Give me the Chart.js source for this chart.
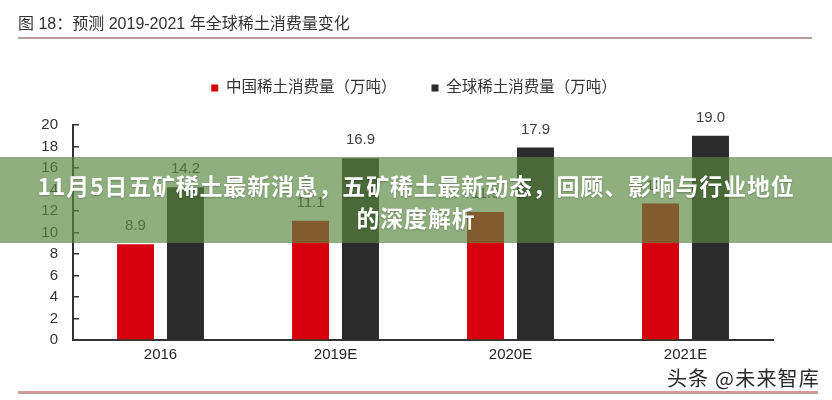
<!DOCTYPE html>
<html><head><meta charset="utf-8">
<script src="https://cdn.jsdelivr.net/npm/chart.js@4.4.0/dist/chart.umd.min.js"></script>
<style>
html,body{margin:0;padding:0;background:#fff;}
#wrap{position:relative;width:832px;height:400px;overflow:hidden;font-family:"Liberation Sans","Noto Sans CJK SC",sans-serif;}
#c{position:absolute;left:0;top:0;width:832px;height:400px;}
#hdr{position:absolute;left:18px;top:13px;font-size:16px;line-height:22px;color:#333;font-family:"Liberation Sans","Noto Sans CJK SC",sans-serif;white-space:nowrap;}
#hline{position:absolute;left:18px;top:37px;width:794px;height:2px;background:#b89b9b;}
#bline{position:absolute;left:18px;top:391px;width:800px;height:3px;background:#cf9c9c;}
#band{position:absolute;left:0;top:157px;width:832px;height:86px;background:rgba(88,137,63,0.67);color:#fff;font-family:"Noto Sans CJK SC",sans-serif;font-weight:bold;font-size:23px;line-height:32px;text-align:center;box-sizing:border-box;padding-top:12px;letter-spacing:0.8px;text-shadow:0 1px 2px rgba(0,0,0,0.25);white-space:nowrap;}
#wm{position:absolute;left:667px;top:364px;font-family:"Noto Sans CJK SC",sans-serif;font-size:20px;line-height:28px;letter-spacing:1.2px;color:#2a2a2a;text-shadow:0 0 2px #fff;white-space:nowrap;}
</style></head><body>
<div id="wrap">
<canvas id="c" width="832" height="400"></canvas>
<div id="hdr">图 18：预测 2019-2021 年全球稀土消费量变化</div>
<div id="hline"></div>
<div id="band">11月5日五矿稀土最新消息，五矿稀土最新动态，回顾、影响与行业地位<br>的深度解析</div>
<div id="wm">头条 @未来智库</div>
<div id="bline"></div>
</div>
<script>
const categories = ['2016', '2019E', '2020E', '2021E'];
const chinaValues = [8.9, 11.1, 11.9, 12.7];
const globalValues = [14.2, 16.9, 17.9, 19.0];
const seriesNames = ['中国稀土消费量（万吨）', '全球稀土消费量（万吨）'];
const yMin = 0, yMax = 20, yStep = 2;

const FONT = '"Liberation Sans","Noto Sans CJK SC",sans-serif';

const legendSpace = {
  id: 'legendSpace',
  beforeInit(chart) {
    const orig = chart.legend.fit;
    chart.legend.fit = function () {
      orig.bind(chart.legend)();
      this.height = 79.75;
      if (this.lineWidths && this.lineWidths.length) this.lineWidths[0] -= 25;
    };
  }
};

const valueLabels = {
  id: 'valueLabels',
  afterDatasetsDraw(chart) {
    const ctx = chart.ctx;
    ctx.save();
    ctx.font = '15px ' + FONT;
    ctx.fillStyle = '#404040';
    ctx.textAlign = 'center';
    ctx.textBaseline = 'middle';
    chart.data.datasets.forEach((ds, i) => {
      const meta = chart.getDatasetMeta(i);
      meta.data.forEach((bar, j) => {
        ctx.fillText(ds.data[j].toFixed(1), bar.x, bar.y - 18);
      });
    });
    ctx.restore();
  }
};

new Chart(document.getElementById('c'), {
  type: 'bar',
  data: {
    labels: categories,
    datasets: [
      { label: seriesNames[0], data: chinaValues, backgroundColor: '#d7000f', borderWidth: 0,
        barPercentage: 0.74, categoryPercentage: 0.571 },
      { label: seriesNames[1], data: globalValues, backgroundColor: '#2b2b2b', borderWidth: 0,
        barPercentage: 0.74, categoryPercentage: 0.571 }
    ]
  },
  options: {
    responsive: false,
    animation: false,
    devicePixelRatio: 1,
    layout: { padding: { top: 45.25, left: 30, right: 59, bottom: 0 } },
    plugins: {
      legend: {
        display: true,
        position: 'top',
        labels: {
          boxWidth: 7, boxHeight: 7, padding: 35,
          color: '#333',
          font: { size: 15.5, family: FONT }
        }
      },
      tooltip: { enabled: false },
      title: { display: false }
    },
    scales: {
      x: {
        grid: { display: false, drawTicks: false },
        border: { display: true, color: '#333', width: 2 },
        ticks: { color: '#222', font: { size: 15, family: FONT }, padding: 6 },
        afterFit(s) { s.height = 60; }
      },
      y: {
        min: yMin, max: yMax,
        ticks: { stepSize: yStep, color: '#333', font: { size: 15, family: FONT }, padding: 21 },
        grid: { display: true, drawOnChartArea: false, drawTicks: true, tickLength: -6, color: '#333', lineWidth: 1.5 },
        border: { display: true, color: '#333', width: 2 },
        afterFit(s) { s.width = 43; }
      }
    }
  },
  plugins: [legendSpace, valueLabels]
});
</script>
</body></html>
